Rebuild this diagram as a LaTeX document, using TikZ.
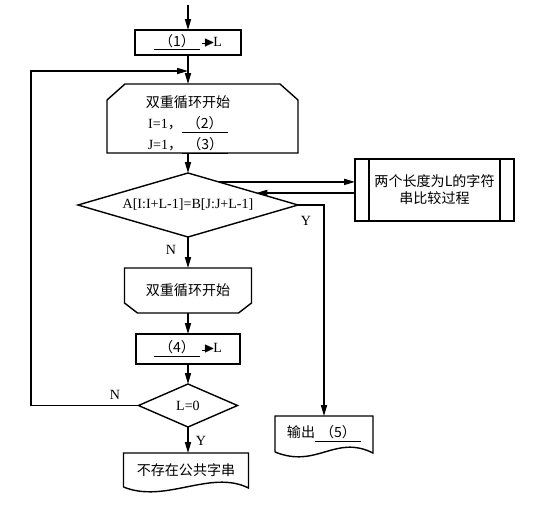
\documentclass[tikz,border=0pt]{standalone}
\usepackage{amssymb}
\usepackage{fontspec}
\setmainfont{Liberation Serif}
\newfontfamily\cjk{Noto Sans CJK SC}
\usetikzlibrary{arrows.meta,calc,shapes.geometric}

% blank to fill in, and the "-> L" assignment mark
\newcommand{\fillin}[1]{\underline{\makebox[11.5mm]{\cjk{（#1）}}}}
\newcommand{\toL}{\,\raisebox{0.32ex}{\rule{0.35em}{0.8pt}}\kern-0.25em$\blacktriangleright$\kern-0.1em L}

\begin{document}
\begin{tikzpicture}[x=0.25mm, y=-0.25mm, line width=1pt,
    >={Triangle[length=2.7mm,width=1.5mm]},
    box/.style={draw, rectangle, inner sep=0pt, outer sep=0pt},
    shp/.style={rectangle, inner sep=0pt, outer sep=0pt},
    dia/.style={draw, diamond, aspect=3, inner sep=0pt, outer sep=0pt},
    lbl/.style={inner sep=1pt}]
        \def \px {0.25mm}
        \def \ax {188}

        \useasboundingbox (0,0) rectangle (537,517);

        \coordinate (start) at (\ax,5);
        \node[box, minimum width=106*\px, minimum height=25*\px] (box1) at (\ax,42.5) {\fillin{1}\toL};
        \coordinate (join) at (\ax,71);
        \coordinate (back) at (31,71);

        % loop start, chamfered top
        \node[shp, minimum width=191*\px, minimum height=69*\px] (loopA) at (202.5,118.5) {};
        \node[align=center] (loopAtxt) at (\ax,125) {\cjk{双重循环开始}\\[3pt] I=1\cjk{，}\fillin{2}\\[3pt] J=1\cjk{，}\fillin{3}};
        \draw (loopA.south west) -- ($(loopA.north west)+(0,16)$) -- ($(loopA.north west)+(18,0)$)
              -- ($(loopA.north east)+(-18,0)$) -- ($(loopA.north east)+(0,16)$) -- (loopA.south east) -- cycle;

        \node[dia, minimum width=220*\px, minimum height=64*\px] (d1) at (\ax,205) {A[I:I+L-1]=B[J:J+L-1]};
        \node[box, minimum width=159*\px, minimum height=62*\px, align=center] (sub) at (434.5,190)
              {\cjk{两个长度为}L\cjk{的字符}\\\cjk{串比较过程}};
        \foreach \s/\o in {west/14, east/-14}
          \draw ($(sub.north \s)+(\o,0)$) -- ($(sub.south \s)+(\o,0)$);

        % loop end, chamfered bottom
        \node[shp, minimum width=127*\px, minimum height=45*\px] (loopB) at (\ax,290.5) {\cjk{双重循环开始}};
        \draw (loopB.north west) -- (loopB.north east) -- ($(loopB.south east)+(0,-10)$) -- ($(loopB.south east)+(-13,0)$)
              -- ($(loopB.south west)+(13,0)$) -- ($(loopB.south west)+(0,-10)$) -- cycle;

        \node[box, minimum width=104*\px, minimum height=30*\px] (box4) at (\ax,349) {\fillin{4}\toL};
        \node[dia, minimum width=99*\px, minimum height=43*\px] (d2) at (\ax,405.5) {L=0};

        % documents
        \node[shp, minimum width=125*\px, minimum height=34*\px] (doc1) at (186,470) {\cjk{不存在公共字串}};
        \node[shp, minimum width=98*\px, minimum height=36*\px] (out) at (324,434) {\cjk{输出}\fillin{5}};
        \foreach \d in {doc1,out}
          \draw (\d.south west) -- (\d.north west) -- (\d.north east) -- ($(\d.south east)+(0,1)$)
                .. controls +(-38,-19) and +(42,17) .. (\d.south west);

        \node[lbl] (y1) at (306,221) {Y};
        \node[lbl] (n1) at (171,250) {N};
        \node[lbl] (n2) at (115,395) {N};
        \node[lbl] (y2) at (201,441) {Y};

        \foreach \a/\b in {start/box1, d1/loopB, loopB/box4, box4/d2}
          \draw[->] (\a) -- (\b);
        \draw[->] (box1) -- (box1 |- loopA.north);
        \draw[->] (d1 |- loopA.south) -- (d1);
        \draw[->] (d1.37) -- (d1.37 -| sub.west);
        \draw[->] (sub.west |- d1.10) -- (d1.10);
        \draw[->] (d1.east) -| (out.north);
        \draw[->] (d2.west) -| (back) -- (join);
        \draw[->] (d2) -- (d2 |- doc1.north);
\end{tikzpicture}
\end{document}
